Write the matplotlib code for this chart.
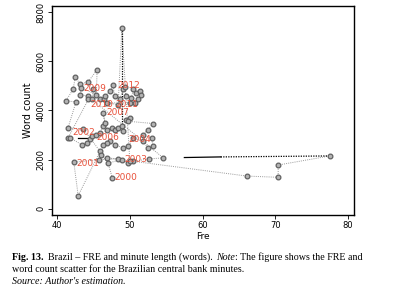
import matplotlib
matplotlib.use("Agg")
from matplotlib import pyplot as plt

# FRE and word count per minute, in chronological order (approximate)
fre = [47.6, 46.8, 48.4, 45.7, 42.3, 42.9, 45.9, 43.6, 41.5, 42.6, 41.2, 42.2,
       42.5, 43.2, 44.3, 45.5, 45.4, 43.3, 43.2, 44.2, 44.3, 41.5, 41.8, 43.4,
       44.1, 44.5, 44.8, 45.4, 45.9, 46.3, 46.6, 46.3, 46.8, 47.5, 47.9, 48.4,
       48.9, 49.1, 49.5, 50.0, 49.8, 53.2, 52.5, 51.8, 53.0, 53.2, 52.5, 51.8,
       50.5, 49.8, 49.1, 47.9, 47.3, 46.8, 46.3, 46.1, 47.0, 48.9, 49.8, 50.5,
       52.6, 54.6, 44.8, 45.0, 45.9, 46.4, 46.6, 47.3, 47.7, 47.9, 48.6, 49.1,
       49.3, 49.5, 50.2, 50.5, 50.9, 51.4, 51.6, 51.1, 50.7, 50.0, 46.8, 48.4,
       48.9, 50.0, 66.1, 70.4, 70.4, 77.5]
words = [1250, 2070, 2030, 2000, 1890, 530, 2340, 3250, 3290, 4350, 4390, 4860,
         5360, 5060, 5180, 5660, 4650, 4920, 4650, 4580, 4450, 2880, 2880, 2610,
         2680, 2820, 2950, 3020, 3090, 3360, 3500, 3900, 3220, 3290, 3220, 3290,
         3360, 3150, 3630, 3700, 3560, 3470, 3220, 3020, 2880, 2540, 2480, 2750,
         2880, 2540, 2480, 2610, 2750, 2680, 2610, 2200, 1860, 2000, 1860, 1930,
         2030, 2070, 4450, 4860, 4450, 4450, 4580, 4790, 5020, 4580, 4450, 4880,
         4970, 4580, 4520, 4860, 4720, 4790, 4650, 4450, 4310, 4310, 4310, 4240,
         7360, 1950, 1330, 1280, 1780, 2150]

# black connector segments
blk_dot_x = [[48.9, 48.9], [62.5, 77.5]]
blk_dot_y = [[7360, 3350], [2110, 2150]]
blk_solid_x = [[57.5, 62.5], [42.9, 44.1]]
blk_solid_y = [[2085, 2110], [2880, 2880]]

# year labels (those readable in the figure)
years = ["2000", "2001", "2002", "2003", "2004", "2006", "2007",
         "2009", "2010", "2011", "2012"]
year_x = [49.5, 44.2, 43.6, 50.8, 51.3, 47.0, 48.4, 45.2, 46.2, 49.6, 49.8]
year_y = [1270, 1840, 3100, 2000, 2800, 2900, 3920, 4900, 4250, 4250, 5020]

fig = plt.figure(figsize=(3.94, 2.9), dpi=100)
ax = fig.add_axes([0.132, 0.259, 0.766, 0.72])

ax.plot(fre, words, color="#9a9a9a", lw=0.7, ls=(0, (1, 1.2)), zorder=1)
for xs, ys in zip(blk_dot_x, blk_dot_y):
    ax.plot(xs, ys, color="black", lw=0.9, ls=(0, (1, 1)), zorder=2)
for xs, ys in zip(blk_solid_x, blk_solid_y):
    ax.plot(xs, ys, color="black", lw=0.9, zorder=2)
ax.plot(fre, words, "o", ms=3.4, mfc="#b3b3b3", mec="#606060", mew=0.9,
        ls="none", zorder=3)

for lab, x, y in zip(years, year_x, year_y):
    ax.text(x, y, lab, color="#e8503a", fontsize=6.5, ha="center",
            va="center", zorder=4)

ax.set_xlim(39.3, 80.8)
ax.set_ylim(-250, 8250)
ax.set_xticks([40, 50, 60, 70, 80])
ax.set_yticks([0, 2000, 4000, 6000, 8000])
ax.tick_params(labelsize=6, length=3, width=0.6, pad=1.5)
for lab in ax.get_yticklabels():
    lab.set_rotation(90)
    lab.set_va("center")
for sp in ax.spines.values():
    sp.set_linewidth(1.0)
ax.set_xlabel("Fre", fontsize=6.5, labelpad=1)
ax.set_ylabel("Word count", fontsize=7, labelpad=3)

# caption
fs = 7.2
t1 = fig.text(0.03, 1 - 262 / 290, "Fig. 13.", family="Liberation Serif",
              weight="bold", fontsize=fs, va="bottom")
t2 = ax.annotate("  Brazil \u2013 FRE and minute length (words). ", xy=(1, 0),
                 xycoords=t1, fontsize=fs, family="Liberation Serif",
                 va="bottom", annotation_clip=False)
t3 = ax.annotate("Note", xy=(1, 0), xycoords=t2, fontsize=fs,
                 family="Liberation Serif", style="italic", va="bottom",
                 annotation_clip=False)
ax.annotate(": The figure shows the FRE and", xy=(1, 0), xycoords=t3,
            fontsize=fs, family="Liberation Serif", va="bottom",
            annotation_clip=False)
fig.text(0.03, 1 - 274 / 290,
         "word count scatter for the Brazilian central bank minutes.",
         family="Liberation Serif", fontsize=fs, va="bottom")
fig.text(0.03, 1 - 286 / 290, "Source: Author's estimation.",
         family="Liberation Serif", style="italic", fontsize=fs, va="bottom")

fig.savefig("out.png", dpi=100)
